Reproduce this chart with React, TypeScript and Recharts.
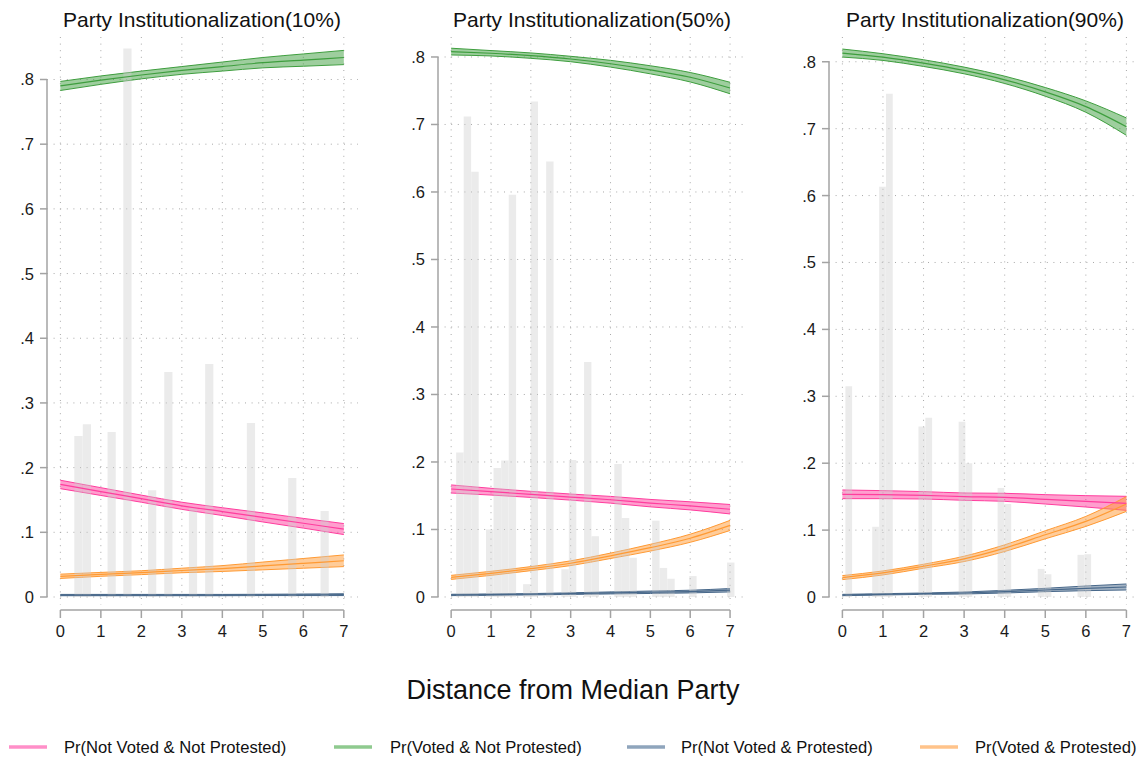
import React from 'react';
import { ComposedChart, Bar, Area, Line, XAxis, YAxis, CartesianGrid } from 'recharts';

const FONT = '"Liberation Sans", Arial, Helvetica, sans-serif';

// ---------- shared ----------
const xPoints = [0, 1, 2, 3, 4, 5, 6, 7];
const xTicks = [0, 1, 2, 3, 4, 5, 6, 7];
const yTicks = [0, 0.1, 0.2, 0.3, 0.4, 0.5, 0.6, 0.7, 0.8];
const panelTitles = ['Party Institutionalization(10%)', 'Party Institutionalization(50%)', 'Party Institutionalization(90%)'];
const xTitle = 'Distance from Median Party';
const legendLabels = ['Pr(Not Voted & Not Protested)', 'Pr(Voted & Not Protested)', 'Pr(Not Voted & Protested)', 'Pr(Voted & Protested)'];

// ---------- panel 1 (10%) ----------
const p1BarX = [0.45, 0.66, 1.27, 1.66, 2.27, 2.67, 3.28, 3.68, 4.71, 5.73, 6.53];
const p1BarH = [0.249, 0.267, 0.255, 0.848, 0.165, 0.348, 0.138, 0.36, 0.269, 0.184, 0.133];
const p1Pink = [0.174, 0.163, 0.152, 0.141, 0.132, 0.123, 0.114, 0.105];
const p1PinkCI = [0.0065, 0.006, 0.0055, 0.0055, 0.006, 0.007, 0.0075, 0.0085];
const p1Green = [0.79, 0.799, 0.807, 0.814, 0.82, 0.826, 0.83, 0.834];
const p1GreenCI = [0.007, 0.0065, 0.006, 0.006, 0.007, 0.008, 0.0095, 0.011];
const p1Blue = [0.003, 0.003, 0.003, 0.003, 0.003, 0.0032, 0.0034, 0.0036];
const p1BlueCI = [0.001, 0.001, 0.001, 0.001, 0.001, 0.001, 0.0012, 0.0014];
const p1Orange = [0.032, 0.035, 0.0376, 0.041, 0.044, 0.048, 0.052, 0.056];
const p1OrangeCI = [0.0033, 0.003, 0.003, 0.0035, 0.0045, 0.006, 0.0075, 0.009];

// ---------- panel 2 (50%) ----------
const p2BarX = [0.22, 0.41, 0.6, 0.97, 1.16, 1.35, 1.54, 1.9, 2.09, 2.48, 2.86, 3.05, 3.43, 3.62, 4.19, 4.38, 4.57, 5.14, 5.33, 5.52, 6.07, 7.02];
const p2BarH = [0.214, 0.712, 0.63, 0.1, 0.191, 0.202, 0.596, 0.019, 0.734, 0.645, 0.041, 0.203, 0.348, 0.09, 0.197, 0.117, 0.058, 0.113, 0.043, 0.027, 0.031, 0.051];
const p2Pink = [0.16, 0.156, 0.152, 0.148, 0.144, 0.139, 0.135, 0.13];
const p2PinkCI = [0.006, 0.005, 0.0045, 0.0045, 0.005, 0.0055, 0.006, 0.007];
const p2Green = [0.808, 0.8055, 0.802, 0.797, 0.79, 0.781, 0.77, 0.754];
const p2GreenCI = [0.005, 0.004, 0.004, 0.004, 0.005, 0.006, 0.007, 0.0085];
const p2Blue = [0.003, 0.0035, 0.004, 0.005, 0.006, 0.007, 0.008, 0.01];
const p2BlueCI = [0.001, 0.001, 0.001, 0.0012, 0.0015, 0.0018, 0.002, 0.0025];
const p2Orange = [0.029, 0.035, 0.042, 0.05, 0.061, 0.073, 0.087, 0.106];
const p2OrangeCI = [0.003, 0.003, 0.003, 0.0035, 0.004, 0.005, 0.006, 0.0075];

// ---------- panel 3 (90%) ----------
const p3BarX = [0.16, 0.82, 0.99, 1.16, 1.96, 2.13, 2.95, 3.12, 3.91, 4.08, 4.9, 5.07, 5.88, 6.05];
const p3BarH = [0.315, 0.105, 0.613, 0.752, 0.255, 0.268, 0.262, 0.2, 0.163, 0.139, 0.042, 0.034, 0.063, 0.064];
const p3Pink = [0.1535, 0.153, 0.152, 0.15, 0.149, 0.146, 0.143, 0.14];
const p3PinkCI = [0.0065, 0.006, 0.0055, 0.0055, 0.006, 0.007, 0.0085, 0.0105];
const p3Green = [0.813, 0.807, 0.798, 0.787, 0.773, 0.755, 0.733, 0.703];
const p3GreenCI = [0.006, 0.005, 0.005, 0.005, 0.0055, 0.0065, 0.0085, 0.013];
const p3Blue = [0.003, 0.004, 0.005, 0.006, 0.008, 0.0105, 0.013, 0.015];
const p3BlueCI = [0.001, 0.001, 0.001, 0.0015, 0.002, 0.0025, 0.0035, 0.0045];
const p3Orange = [0.029, 0.036, 0.046, 0.057, 0.073, 0.093, 0.113, 0.139];
const p3OrangeCI = [0.003, 0.003, 0.003, 0.004, 0.005, 0.006, 0.0075, 0.011];

const seriesKeys = ['pink', 'green', 'blue', 'orange'];
const seriesColors: Record<string, string> = { pink: '#ff3d9e', green: '#3e9e3e', blue: '#48688a', orange: '#ff9a33' };
const legendColors = ['#ff8fc8', '#8fca8f', '#8fa5bc', '#ffc38a'];

const buildBars = (xs: number[], hs: number[]) => xs.map((x, i) => ({ x, h: hs[i] }));
const buildBands = (s: Record<string, number[][]>) =>
  xPoints.map((x, i) => {
    const row: any = { x };
    seriesKeys.forEach((k) => {
      const [mid, ci] = s[k];
      row[k] = mid[i];
      row[k + 'Band'] = [mid[i] - ci[i], mid[i] + ci[i]];
    });
    return row;
  });

const panels = [
  {
    left: 0, width: 358, xDomain: [-0.33, 7.35], yDomain: [-0.0201, 0.8657], barSize: 8.2, titleX: 202,
    bars: buildBars(p1BarX, p1BarH),
    bands: buildBands({ pink: [p1Pink, p1PinkCI], green: [p1Green, p1GreenCI], blue: [p1Blue, p1BlueCI], orange: [p1Orange, p1OrangeCI] }),
  },
  {
    left: 391, width: 353, xDomain: [-0.33, 7.35], yDomain: [-0.0193, 0.8296], barSize: 7.4, titleX: 592,
    bars: buildBars(p2BarX, p2BarH),
    bands: buildBands({ pink: [p2Pink, p2PinkCI], green: [p2Green, p2GreenCI], blue: [p2Blue, p2BlueCI], orange: [p2Orange, p2OrangeCI] }),
  },
  {
    left: 782, width: 357, xDomain: [-0.33, 7.31], yDomain: [-0.0194, 0.837], barSize: 6.7, titleX: 985,
    bars: buildBars(p3BarX, p3BarH),
    bands: buildBands({ pink: [p3Pink, p3PinkCI], green: [p3Green, p3GreenCI], blue: [p3Blue, p3BlueCI], orange: [p3Orange, p3OrangeCI] }),
  },
];

const AXIS_GRAY = '#a3a3a3';
const GRID_GRAY = '#a8a8a8';
const GRID_DASH = '1 5.6';

const XTick = (props: any) => {
  const { x, y, payload } = props;
  return (
    <g>
      <line x1={x} x2={x} y1={y} y2={y + 8} stroke={AXIS_GRAY} strokeWidth={1.5} />
      <text x={x} y={y + 21} textAnchor="middle" dominantBaseline="central" fontSize={16.5} fill="#1a1a1a" fontFamily={FONT}>
        {payload.value}
      </text>
    </g>
  );
};

const YTick = (props: any) => {
  const { x, y, payload } = props;
  const v = payload.value;
  const label = v === 0 ? '0' : String(v).replace(/^0/, '');
  return (
    <g>
      <line x1={x - 7} x2={x} y1={y} y2={y} stroke={AXIS_GRAY} strokeWidth={1.5} />
      <text x={x - 13} y={y} textAnchor="end" dominantBaseline="central" fontSize={16.5} fill="#1a1a1a" fontFamily={FONT}>
        {label}
      </text>
    </g>
  );
};

// Horizontal grid lines; the first also draws the y-axis line over the tick range (0..0.8).
const HorizontalGrid = (props: any) => {
  const { x1, x2, y1, index, horizontalPoints, x } = props;
  const hp: number[] = Array.isArray(horizontalPoints) ? horizontalPoints : [];
  return (
    <g>
      <line x1={x1} x2={x2} y1={y1} y2={y1} stroke={GRID_GRAY} strokeDasharray={GRID_DASH} strokeWidth={1} />
      {index === 0 && hp.length > 1 && (
        <line x1={x} x2={x} y1={Math.min(...hp)} y2={Math.max(...hp)} stroke={AXIS_GRAY} strokeWidth={1.5} />
      )}
    </g>
  );
};

// Vertical grid lines; the first also draws the x-axis line over the tick range (0..7).
const VerticalGrid = (props: any) => {
  const { x1, y1, y2, index, verticalPoints } = props;
  const vp: number[] = Array.isArray(verticalPoints) ? verticalPoints : [];
  const bottom = Math.max(y1, y2);
  return (
    <g>
      <line x1={x1} x2={x1} y1={Math.min(y1, y2)} y2={bottom - 5} stroke={GRID_GRAY} strokeDasharray={GRID_DASH} strokeWidth={1} />
      {index === 0 && vp.length > 1 && (
        <line x1={Math.min(...vp)} x2={Math.max(...vp)} y1={bottom} y2={bottom} stroke={AXIS_GRAY} strokeWidth={1.5} />
      )}
    </g>
  );
};

function Panel({ cfg }: { cfg: any }) {
  return (
    <div style={{ position: 'absolute', left: cfg.left, top: 0 }}>
      <ComposedChart width={cfg.width} height={650} data={cfg.bars} margin={{ top: 37, right: 0, bottom: 0, left: 0 }}>
        <CartesianGrid syncWithTicks horizontal={HorizontalGrid} vertical={VerticalGrid} />
        <XAxis
          dataKey="x" type="number" domain={cfg.xDomain} ticks={xTicks} interval={0}
          axisLine={false} tickLine={false} tickSize={0} tickMargin={0} height={40} tick={<XTick />}
        />
        <XAxis xAxisId="bars" dataKey="x" type="number" domain={cfg.xDomain} allowDataOverflow hide />
        <YAxis
          type="number" domain={cfg.yDomain} ticks={yTicks} interval={0}
          axisLine={false} tickLine={false} tickSize={0} tickMargin={0} width={47} tick={<YTick />}
        />
        <Bar xAxisId="bars" dataKey="h" barSize={cfg.barSize} fill="#cccccc" fillOpacity={0.4} isAnimationActive={false} />
        {seriesKeys.map((k) => (
          <Area
            key={k + 'a'} data={cfg.bands} dataKey={k + 'Band'} type="monotone"
            stroke={seriesColors[k]} strokeWidth={1} fill={seriesColors[k]} fillOpacity={0.5}
            dot={false} activeDot={false} isAnimationActive={false}
          />
        ))}
        {seriesKeys.map((k) => (
          <Line
            key={k + 'l'} data={cfg.bands} dataKey={k} type="monotone"
            stroke={seriesColors[k]} strokeWidth={1.2} dot={false} activeDot={false} isAnimationActive={false}
          />
        ))}
      </ComposedChart>
    </div>
  );
}

const legendLineX = [9, 334, 627, 920];
const legendTextX = [64, 390, 681, 975];

export default function App() {
  return (
    <div style={{ position: 'absolute', left: 0, top: 0, width: 1139, height: 760, background: '#fff', overflow: 'hidden', fontFamily: FONT }}>
      {panels.map((p, i) => (
        <Panel key={i} cfg={p} />
      ))}
      <svg width={1139} height={760} style={{ position: 'absolute', left: 0, top: 0, pointerEvents: 'none' }}>
        {panels.map((p, i) => (
          <text key={i} x={p.titleX} y={26.5} textAnchor="middle" fontSize={21} fill="#111" fontFamily={FONT}>
            {panelTitles[i]}
          </text>
        ))}
        <text x={573} y={699} textAnchor="middle" fontSize={27} fill="#111" fontFamily={FONT}>
          {xTitle}
        </text>
        {legendLabels.map((l, i) => (
          <g key={l}>
            <line x1={legendLineX[i]} x2={legendLineX[i] + 38} y1={747} y2={747} stroke={legendColors[i]} strokeWidth={3.5} />
            <text x={legendTextX[i]} y={753} fontSize={16.6} fill="#111" fontFamily={FONT}>
              {l}
            </text>
          </g>
        ))}
      </svg>
    </div>
  );
}
